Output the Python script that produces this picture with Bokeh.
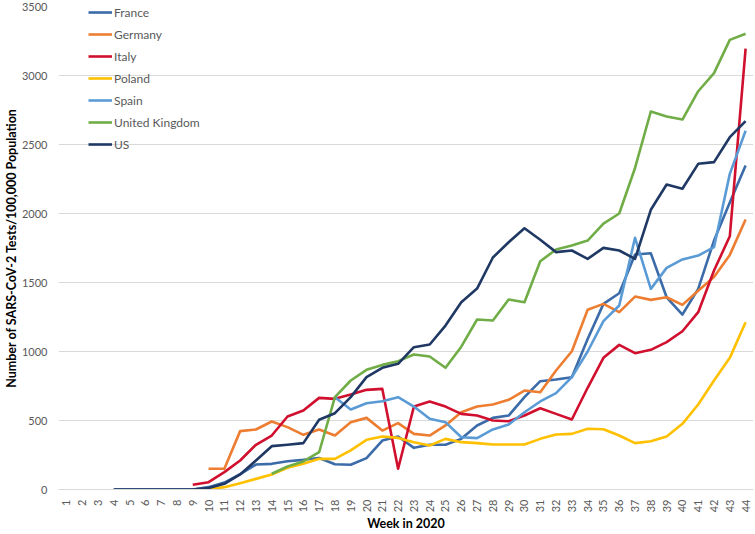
import math
from bokeh.plotting import figure
from bokeh.models import ColumnDataSource, FixedTicker, Range1d, Legend, LegendItem
from bokeh.embed import file_html
from bokeh.resources import INLINE

weeks = list(range(1, 45))
week_labels = [str(w) for w in weeks]
N = None

france = [N, N, N, 0, 0, 0, 0, 0, 0, 17, 50, 112, 181, 186, 205, 215, 228, 183, 179, 227,
          355, 384, 302, 324, 324, 367, 464, 519, 536, 669, 785, 797, 814, 1090, 1345, 1422,
          1703, 1712, 1393, 1268, 1454, 1804, 2080, 2348]
germany = [N, N, N, N, N, N, N, N, N, 150, 150, 423, 435, 493, 452, 396, 435, 391, 488, 519,
           427, 481, 403, 391, 464, 560, 601, 616, 650, 717, 705, 862, 1002, 1302, 1345, 1285,
           1398, 1374, 1393, 1338, 1440, 1540, 1700, 1956]
italy = [N, N, N, N, N, N, N, N, 34, 53, 126, 210, 324, 391, 529, 572, 664, 657, 688, 722,
         729, 150, 601, 638, 601, 548, 536, 500, 495, 536, 589, 548, 507, 737, 954, 1048,
         988, 1012, 1068, 1147, 1285, 1587, 1835, 3195]
poland = [N, N, N, N, N, N, N, N, N, 2, 17, 46, 77, 109, 157, 186, 222, 222, 283, 360,
          384, 374, 343, 319, 367, 343, 336, 326, 326, 326, 367, 399, 403, 440, 437, 391,
          336, 350, 384, 476, 616, 790, 954, 1212]
spain = [N, N, N, N, N, N, N, N, N, N, N, N, N, N, N, N, N, 669, 580, 625,
         640, 669, 601, 512, 488, 379, 372, 435, 471, 560, 638, 698, 814, 1000, 1220, 1333,
         1824, 1454, 1606, 1667, 1695, 1756, 2287, 2600]
uk = [N, N, N, N, N, N, N, N, N, N, N, N, N, 114, 167, 203, 270, 670, 790, 867,
      903, 930, 978, 964, 882, 1035, 1232, 1225, 1377, 1357, 1654, 1739, 1768, 1804, 1927, 2000,
      2330, 2739, 2703, 2681, 2886, 3017, 3258, 3302]
us = [N, N, N, 0, 0, 0, 0, 0, 0, 10, 41, 109, 210, 314, 324, 336, 505, 553, 669, 814,
      882, 911, 1031, 1051, 1188, 1357, 1456, 1681, 1792, 1893, 1810, 1720, 1732, 1671, 1751, 1732,
      1671, 2027, 2210, 2179, 2360, 2372, 2553, 2669]

series_names = ["France", "Germany", "Italy", "Poland", "Spain", "United Kingdom", "US"]
series_values = [france, germany, italy, poland, spain, uk, us]
series_colors = ["#3B6BA8", "#ED7D31", "#D0102E", "#FFC000", "#5B9BD5", "#70AD47", "#1F3864"]
y_ticks = [0, 500, 1000, 1500, 2000, 2500, 3000, 3500]

FONT = "Lato"

p = figure(width=755, height=534, output_backend="svg", toolbar_location=None,
           x_range=Range1d(0.5, 44.5), y_range=Range1d(0, 3500),
           min_border_left=57, min_border_right=2, min_border_top=6, min_border_bottom=45)
p.outline_line_color = None
p.background_fill_color = "white"
p.border_fill_color = "white"

items = []
for name, vals, col in zip(series_names, series_values, series_colors):
    ys = [float("nan") if v is None else v for v in vals]
    src = ColumnDataSource(dict(x=weeks, y=ys))
    r = p.line("x", "y", source=src, line_color=col, line_width=2.6, line_join="round")
    items.append(LegendItem(label=name, renderers=[r]))

legend = Legend(items=items, location=(30, 337), padding=0, spacing=6,
                glyph_height=16, label_height=16, glyph_width=24, label_standoff=2,
                background_fill_alpha=0, border_line_alpha=0,
                label_text_font=FONT, label_text_font_size="12px",
                label_text_color="#595959", margin=0)
p.add_layout(legend, "center")

# axes
p.xaxis.ticker = FixedTicker(ticks=weeks)
p.xaxis.major_label_overrides = {w: lbl for w, lbl in zip(weeks, week_labels)}
p.xaxis.major_label_orientation = math.pi / 2
p.xaxis.major_tick_line_color = None
p.xaxis.minor_tick_line_color = None
p.xaxis.axis_line_color = "#D9D9D9"
p.xaxis.major_label_text_font = FONT
p.xaxis.major_label_text_font_size = "11px"
p.xaxis.major_label_text_color = "#595959"
p.xaxis.major_label_standoff = 4
p.xaxis.axis_label = "Week in 2020"
p.xaxis.axis_label_text_font = FONT
p.xaxis.axis_label_text_font_style = "bold"
p.xaxis.axis_label_text_font_size = "12.5px"
p.xaxis.axis_label_text_color = "#000000"
p.xaxis.axis_label_standoff = 1

p.yaxis.ticker = FixedTicker(ticks=y_ticks)
p.yaxis.major_tick_line_color = None
p.yaxis.minor_tick_line_color = None
p.yaxis.axis_line_color = None
p.yaxis.major_label_text_font = FONT
p.yaxis.major_label_text_font_size = "11px"
p.yaxis.major_label_text_color = "#595959"
p.yaxis.major_label_standoff = 5
p.yaxis.axis_label = "Number of SARS-CoV-2 Tests/100,000 Population"
p.yaxis.axis_label_text_font = FONT
p.yaxis.axis_label_text_font_style = "bold"
p.yaxis.axis_label_text_font_size = "12.5px"
p.yaxis.axis_label_text_color = "#000000"
p.yaxis.axis_label_standoff = 0

p.xgrid.grid_line_color = None
p.ygrid.grid_line_color = "#D9D9D9"
p.ygrid.grid_line_width = 1

open("out.html", "w").write(file_html(p, INLINE))
